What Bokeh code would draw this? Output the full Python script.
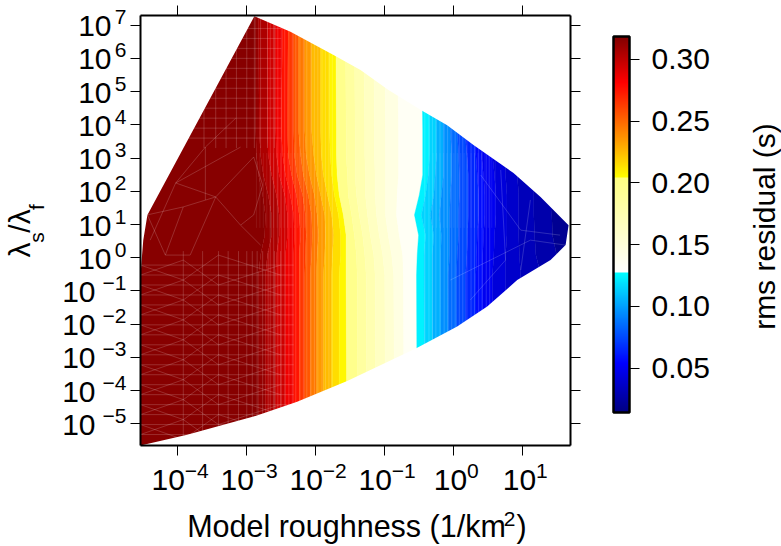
from math import pi
import numpy as np
from bokeh.embed import file_html
from bokeh.models import (BasicTickFormatter, ColorBar, ColumnDataSource, FixedTicker, LinearColorMapper,
                          LogAxis, NumeralTickFormatter, Range1d)
from bokeh.plotting import figure
from bokeh.resources import INLINE

x_exponents = [-4, -3, -2, -1, 0, 1]
y_exponents = [-5, -4, -3, -2, -1, 0, 1, 2, 3, 4, 5, 6, 7]
rms_ticks = [0.05, 0.10, 0.15, 0.20, 0.25, 0.30]

# colour scale of the residual
cmap_values = [0.0141, 0.054, 0.12759, 0.12761, 0.20459, 0.20461, 0.281, 0.3186]
cmap_colors = ["#000080", "#0000ff", "#00ffff", "#ffffff", "#ffff80", "#ffff00", "#ff0000", "#800000"]

# rms residual levels of the filled contours
rms_levels = [0.3186, 0.315, 0.31, 0.30, 0.29, 0.281, 0.27, 0.26, 0.25, 0.24, 0.23, 0.22, 0.21, 0.2046,
              0.19, 0.18, 0.17, 0.16, 0.15, 0.14, 0.1276,
              0.12, 0.11, 0.10, 0.09, 0.08, 0.07, 0.06, 0.054, 0.045, 0.04, 0.035, 0.03, 0.025, 0.0141]

# log10(lambda_s/lambda_f) of each row of contour crossings
log_ratio_rows = [7.3, 3.84, 3.09, 2.49, 1.89, 1.29, 0.68, 0.08, -0.52, -5.66]

# log10(roughness) where each level crosses each row
log_roughness_r0 = [-2.87,-2.83,-2.70,-2.58,-2.48,-2.40,-2.32,-2.25,-2.16,-2.06,-1.93,-1.80,-1.71,-1.57,-1.44,-1.31,-1.16,-1.00,-0.82,-0.47,-0.37,-0.27,-0.16,-0.06,0.04,0.14,0.27,0.36,0.53,0.72,0.91,1.20,1.55]
log_roughness_r1 = [-2.87,-2.82,-2.70,-2.58,-2.50,-2.41,-2.32,-2.25,-2.16,-2.06,-1.93,-1.80,-1.70,-1.56,-1.43,-1.29,-1.15,-0.99,-0.80,-0.45,-0.35,-0.25,-0.15,-0.05,0.05,0.16,0.29,0.37,0.55,0.72,0.91,1.20,1.52]
log_roughness_r2 = [-2.86,-2.80,-2.69,-2.57,-2.48,-2.40,-2.31,-2.22,-2.14,-2.03,-1.92,-1.79,-1.70,-1.56,-1.43,-1.29,-1.15,-0.99,-0.80,-0.45,-0.35,-0.25,-0.15,-0.03,0.07,0.19,0.32,0.40,0.56,0.74,0.91,1.17,1.49]
log_roughness_r3 = [-2.83,-2.76,-2.64,-2.53,-2.44,-2.35,-2.27,-2.18,-2.09,-1.99,-1.89,-1.77,-1.69,-1.54,-1.43,-1.28,-1.14,-0.99,-0.80,-0.45,-0.37,-0.27,-0.15,-0.03,0.08,0.21,0.34,0.43,0.59,0.75,0.92,1.16,1.46]
log_roughness_r4 = [-2.77,-2.69,-2.57,-2.45,-2.37,-2.28,-2.19,-2.11,-2.02,-1.93,-1.83,-1.73,-1.66,-1.53,-1.41,-1.28,-1.14,-0.99,-0.82,-0.50,-0.41,-0.29,-0.18,-0.05,0.08,0.21,0.36,0.45,0.61,0.77,0.94,1.16,1.43]
log_roughness_r5 = [-2.73,-2.64,-2.53,-2.41,-2.32,-2.24,-2.15,-2.06,-1.98,-1.87,-1.77,-1.67,-1.60,-1.48,-1.37,-1.25,-1.12,-0.99,-0.83,-0.57,-0.47,-0.34,-0.21,-0.06,0.07,0.21,0.36,0.45,0.61,0.77,0.94,1.16,1.42]
log_roughness_r6 = [-2.74,-2.64,-2.53,-2.41,-2.31,-2.22,-2.14,-2.05,-1.96,-1.86,-1.74,-1.64,-1.56,-1.44,-1.32,-1.21,-1.08,-0.95,-0.79,-0.51,-0.41,-0.29,-0.18,-0.06,0.07,0.20,0.34,0.43,0.59,0.77,0.94,1.17,1.43]
log_roughness_r7 = [-2.80,-2.70,-2.57,-2.44,-2.32,-2.24,-2.15,-2.06,-1.98,-1.87,-1.76,-1.64,-1.56,-1.41,-1.29,-1.16,-1.03,-0.90,-0.74,-0.53,-0.43,-0.31,-0.19,-0.06,0.05,0.19,0.33,0.42,0.58,0.75,0.95,1.19,1.49]
log_roughness_r8 = [-2.83,-2.73,-2.58,-2.44,-2.32,-2.24,-2.16,-2.08,-1.99,-1.89,-1.77,-1.66,-1.56,-1.40,-1.27,-1.14,-1.00,-0.87,-0.73,-0.54,-0.43,-0.31,-0.19,-0.08,0.04,0.17,0.32,0.42,0.56,0.75,0.97,1.26,1.55]
log_roughness_r9 = [-2.83,-2.73,-2.58,-2.44,-2.32,-2.24,-2.16,-2.08,-1.99,-1.89,-1.77,-1.66,-1.55,-1.39,-1.26,-1.13,-0.99,-0.86,-0.72,-0.53,-0.42,-0.30,-0.18,-0.07,0.05,0.18,0.33,0.43,0.57,0.76,0.98,1.27,1.56]

# outline of the sampled area, log10 values
outline_log_roughness = [-4.54,-4.54,-4.50,-4.44,-2.89,-2.367,-1.743,-1.352,-0.947,-0.459,-0.096,0.285,0.865,1.257,1.663,1.62,1.402,0.919,0.484,0.049,-0.53,-1.545,-2.27,-2.903,-3.864]
outline_log_ratio = [-5.65,-0.52,0.53,1.29,7.27,6.80,6.10,5.65,5.05,4.42,3.99,3.39,2.55,1.83,0.98,0.38,-0.07,-0.67,-1.47,-2.07,-2.71,-3.71,-4.33,-4.78,-5.33]

# faint mesh seams
seam_low_ratio = [-0.22,-0.52,-0.82,-1.12,-1.42,-1.72,-2.02,-2.32,-2.62,-2.92,-3.22,-3.52,-3.82,-4.12,-4.42,-4.72,-5.02,-5.32]
seam_low_roughness = [-3.92,-3.64,-3.41,-3.27,-3.12,-3.0,-2.92,-2.85,-2.77,-2.69,-2.6,-2.51]
seam_high_ratio = [3.6,3.9,4.2,4.5,4.8,5.1,5.4,5.7,6.0,6.3,6.6,6.9]
seam_high_roughness = [-3.62,-3.45,-3.3,-3.15,-3.0,-2.89,-2.8,-2.7,-2.6]
seam_paths = [
    [(-4.44,1.29),(-3.92,1.53),(-3.45,1.83),(-2.90,3.03)],
    [(-4.03,2.25),(-3.45,1.83),(-3.09,0.98),(-2.80,0.38)],
    [(-4.44,1.29),(-4.18,0.08),(-3.92,1.53)],
    [(-3.60,3.33),(-4.03,2.25),(-4.40,0.53)],
    [(-3.16,4.20),(-3.60,3.33),(-3.60,1.74)],
    [(-3.45,1.83),(-3.82,0.08),(-4.18,0.08)],
    [(-2.90,3.03),(-2.77,2.19),(-2.90,1.29),(-3.09,0.98)],
    [(-4.03,2.25),(-3.09,3.33)],
    [(0.39,2.49),(0.97,0.83),(1.54,0.68)],
    [(0.68,2.64),(0.75,-0.07),(0.24,-1.27)],
    [(1.11,1.74),(0.97,-0.37)],
    [(-0.05,-0.67),(1.11,0.53),(1.62,0.38)],
]
# dense meshing around the middle of the curve
seam_fuzz_ratio = [0.9,1.05,1.2,1.35,1.5,1.65,1.8,1.95,2.1,2.25,2.4,2.55,2.7,2.85,3.0,3.15]
seam_fuzz_red = [-2.86,-2.81,-2.76,-2.71,-2.66,-2.61,-2.56,-2.51,-2.46,-2.41,-2.36,-2.31,-2.26,-2.21,-2.16]
seam_fuzz_blue = [-0.3,-0.25,-0.2,-0.15,-0.1,-0.05,0.0,0.05,0.1,0.15,0.2,0.25,0.3,0.35,0.4,0.45,0.5,0.55,0.6]
# fine column stripes
stripe_roughness = [-2.66,-2.61,-2.55,-2.5,-2.45,-2.39,-2.34,-2.29,-2.23,-2.18,-2.13,-2.07,-2.02,-1.97,-1.91,-1.86,-1.81,-1.76,
                    -0.42,-0.36,-0.31,-0.26,-0.2,-0.14,-0.09,-0.03,0.02,0.08,0.13,0.19,0.25,0.3,0.36,0.41,0.47,0.52]

x_lo, x_hi = -4.54, 1.691
y_lo, y_hi = -5.65, 7.29

contours = np.array([log_roughness_r0, log_roughness_r1, log_roughness_r2, log_roughness_r3, log_roughness_r4,
                     log_roughness_r5, log_roughness_r6, log_roughness_r7, log_roughness_r8, log_roughness_r9])
left = np.full((len(log_ratio_rows), 1), x_lo)
right = np.full((len(log_ratio_rows), 1), x_hi + 0.02)
contours = np.hstack([left, contours, right])
rows = np.array(log_ratio_rows)

low, high = cmap_values[0], cmap_values[-1]
bins = np.linspace(low, high, 513)
mids = (bins[:-1] + bins[1:]) / 2
rgb = np.array([[int(c[i:i + 2], 16) for i in (1, 3, 5)] for c in cmap_colors])
palette = ["#%02x%02x%02x" % tuple(int(round(np.interp(v, cmap_values, rgb[:, j]))) for j in range(3)) for v in mids]
mapper = LinearColorMapper(palette=palette, low=low, high=high)

p = figure(width=781, height=546, x_axis_type="log", y_axis_type="log",
           x_range=Range1d(10 ** x_lo, 10 ** x_hi), y_range=Range1d(10 ** y_lo, 10 ** y_hi),
           output_backend="svg", toolbar_location=None, frame_width=430, frame_height=430,
           min_border_left=140, min_border_right=211, min_border_top=15, min_border_bottom=101,
           outline_line_color=None)
p.grid.visible = False

xs, ys, band = [], [], []
for k in range(contours.shape[1] - 1):
    xs.append(list(10 ** contours[:, k]) + list(10 ** contours[::-1, k + 1]))
    ys.append(list(10 ** rows) + list(10 ** rows[::-1]))
    band.append((rms_levels[k] + rms_levels[k + 1]) / 2)
src = ColumnDataSource(dict(xs=xs, ys=ys, rms=band))
p.patches("xs", "ys", source=src, fill_color={"field": "rms", "transform": mapper},
          line_color={"field": "rms", "transform": mapper}, line_width=0.4)

# mesh seams
seam_x, seam_y = [], []
for i, r in enumerate(seam_low_ratio):
    seam_x.append([10 ** x_lo, 10 ** -2.32]); seam_y.append([10 ** r, 10 ** r])
    s = 1 if i % 2 else -1
    seam_x.append([10 ** x_lo, 10 ** -3.92, 10 ** -3.41, 10 ** -2.51])
    seam_y.append([10 ** r, 10 ** (r + 0.45 * s), 10 ** (r - 0.3 * s), 10 ** (r + 0.3 * s)])
for c in seam_low_roughness:
    seam_x.append([10 ** c, 10 ** c]); seam_y.append([10 ** y_lo, 10 ** 0.2])
for r in seam_high_ratio:
    seam_x.append([10 ** -4.3, 10 ** -2.5]); seam_y.append([10 ** r, 10 ** r])
for c in seam_high_roughness:
    seam_x.append([10 ** c, 10 ** c]); seam_y.append([10 ** 3.3, 10 ** y_hi])
for path in seam_paths:
    seam_x.append([10 ** a for a, _ in path]); seam_y.append([10 ** b for _, b in path])
p.multi_line(seam_x, seam_y, line_color="white", line_alpha=0.22, line_width=0.8)

fuzz_x, fuzz_y = [], []
for group in (seam_fuzz_red, seam_fuzz_blue):
    for c in group:
        fuzz_x.append([10 ** c, 10 ** c]); fuzz_y.append([10 ** seam_fuzz_ratio[0], 10 ** seam_fuzz_ratio[-1]])
p.multi_line(fuzz_x, fuzz_y, line_color="white", line_alpha=0.1, line_width=0.8)
p.multi_line([[10 ** c, 10 ** c] for c in stripe_roughness], [[10 ** y_lo, 10 ** y_hi] for _ in stripe_roughness],
             line_color="white", line_alpha=0.16, line_width=1)

# everything outside the sampled outline stays white
frame_x = [10 ** x_lo, 10 ** x_hi, 10 ** x_hi, 10 ** x_lo]
frame_y = [10 ** y_lo, 10 ** y_lo, 10 ** y_hi, 10 ** y_hi]
hole_x = list(10 ** np.array(outline_log_roughness))
hole_y = list(10 ** np.array(outline_log_ratio))
p.multi_polygons(xs=[[[frame_x, hole_x]]], ys=[[[frame_y, hole_y]]], fill_color="white", line_color=None)

xtick = FixedTicker(ticks=[10.0 ** e for e in x_exponents])
ytick = FixedTicker(ticks=[10.0 ** e for e in y_exponents])
style = dict(axis_line_color="black", axis_line_width=2, major_tick_line_color="black", major_tick_line_width=1,
             major_tick_in=0, major_tick_out=10, minor_tick_line_color=None,
             major_label_text_color=None, major_label_text_font_size="1px", major_label_standoff=0)
for ax in p.xaxis:
    ax.ticker = xtick
    ax.update(**style)
for ax in p.yaxis:
    ax.ticker = ytick
    ax.update(**style)
p.add_layout(LogAxis(ticker=xtick, **style), "above")
p.add_layout(LogAxis(ticker=ytick, **style), "right")

FONT = "Liberation Sans"
BIG, SMALL = "30px", "21px"
X_DEC, Y_DEC = 69.0, 33.25   # pixels per decade


def text_axis(side, ticks, labels, standoff, size, orientation="horizontal"):
    tv = [float(t) for t in ticks]
    ax = LogAxis(ticker=FixedTicker(ticks=tv), major_label_overrides=dict(zip(tv, labels)),
                 formatter=BasicTickFormatter(), major_label_standoff=standoff,
                 major_label_text_font=FONT, major_label_text_font_size=size, major_label_text_color="black",
                 major_label_orientation=orientation, axis_line_color=None, major_tick_line_color=None,
                 minor_tick_line_color=None, major_tick_in=0, major_tick_out=0)
    p.add_layout(ax, side)


def exp_text(e):
    return str(e).replace("-", "\u2212")


def exp_width(e):
    return 11.7 * len(str(abs(e))) + (12.3 if e < 0 else 0)


# x tick labels: exponents, then the tens
text_axis("below", [10.0 ** (e + (2.5 - (33 + exp_width(e)) / 2 + 33 + exp_width(e) / 2) / X_DEC) for e in x_exponents],
          [exp_text(e) for e in x_exponents], 8, SMALL)
text_axis("below", [10.0 ** (e + (19 - (33 + exp_width(e)) / 2) / X_DEC) for e in x_exponents],
          ["10"] * len(x_exponents), -11, BIG)
# x axis title pieces
text_axis("below", [10.0 ** 0.807], ["2"], 19, SMALL)
text_axis("below", [10.0 ** -1.555, 10.0 ** 0.981], ["Model roughness (1/km", ")"], -20, "30.5px")

# y tick labels: exponents, tens of positive and of negative powers
text_axis("left", [10.0 ** (e + 0.24) for e in y_exponents], [exp_text(e) for e in y_exponents], 4, SMALL)
pos = [e for e in y_exponents if e >= 0]
neg = [e for e in y_exponents if e < 0]
text_axis("left", [10.0 ** (e - 0.03) for e in pos], ["10"] * len(pos), -12, BIG)
text_axis("left", [10.0 ** (e - 0.03) for e in neg], ["10"] * len(neg), -20, BIG)
# y axis title pieces
text_axis("left", [10.0 ** 0.61, 10.0 ** 1.526], ["s", "f"], 11, SMALL, "vertical")
text_axis("left", [10.0 ** 0.233, 10.0 ** 1.105], ["\u03bb", "/\u03bb"], -14, BIG, "vertical")

# colour bar title
text_axis("right", [10.0 ** -2.17], ["rms residual (s)"], 184, BIG, pi / 2)

cb = ColorBar(color_mapper=mapper, location=(473, 33), width=16, height=376, padding=0, margin=0,
              ticker=FixedTicker(ticks=rms_ticks), formatter=NumeralTickFormatter(format="0.00"),
              major_tick_line_color="black", major_tick_line_width=1, major_tick_in=0, major_tick_out=10,
              minor_tick_line_color=None, bar_line_color="black", bar_line_width=2.5,
              major_label_text_font=FONT, major_label_text_font_size=BIG, major_label_text_color="black",
              label_standoff=12, background_fill_color=None, border_line_color=None)
p.add_layout(cb)

open("out.html", "w").write(file_html(p, INLINE))
